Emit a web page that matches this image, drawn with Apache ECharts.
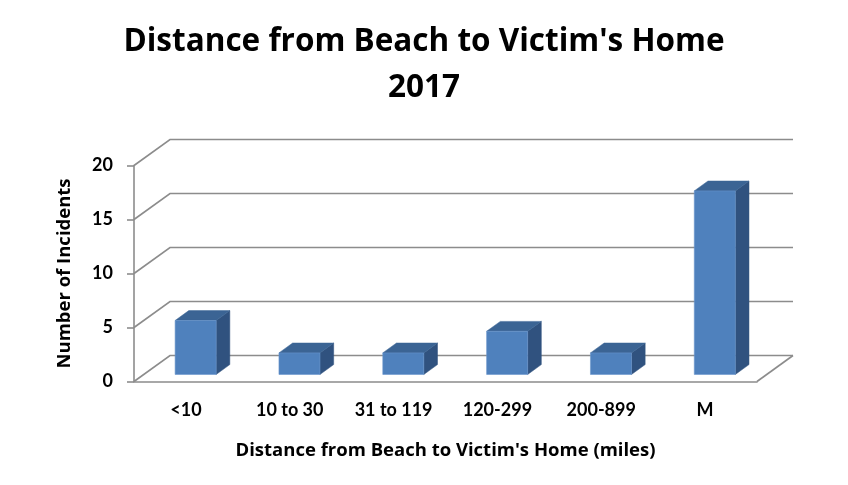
<!DOCTYPE html>
<html>
<head>
<meta charset="utf-8">
<script src="https://cdn.jsdelivr.net/npm/echarts@6/dist/echarts.min.js"></script>
<style>html,body{margin:0;padding:0;background:#fff}#c{width:848px;height:485px}</style>
</head>
<body>
<div id="c"></div>
<script>
var titleText = "Distance from Beach to Victim's Home\n2017";
var categories = ['<10', '10 to 30', '31 to 119', '120-299', '200-899', 'M'];
var incidents = [5, 2, 2, 4, 2, 17];
var yTicks = [0, 5, 10, 15, 20];
var xAxisName = "Distance from Beach to Victim's Home (miles)";
var yAxisName = 'Number of Incidents';

var FONT = 'Lato, Carlito, "Open Sans", sans-serif';
var FONT2 = '"Open Sans", Lato, sans-serif';
var DX = 36, DY = -26;          // full depth offset of the back wall
var F0 = 0.27, F1 = 0.65;        // bar depth start / end fraction
var BAR_W = 0.395;               // bar width as fraction of band
var GRID_COLOR = '#8c8c8c';

var chart = echarts.init(document.getElementById('c'), null, {renderer: 'canvas'});

function gridRender(params, api) {
  var cs = params.coordSys;
  var v = api.value(0);
  var y = api.coord([0, v])[1];
  var x0 = cs.x, x1 = cs.x + cs.width;
  var children = [{
    type: 'polyline',
    shape: {points: [[x0, y], [x0 + DX, y + DY], [x1 + DX, y + DY]]},
    style: {stroke: GRID_COLOR, lineWidth: 1.6, fill: null}
  }];
  if (v === 0) {
    children.push({
      type: 'line',
      shape: {x1: x1, y1: y, x2: x1 + DX, y2: y + DY},
      style: {stroke: GRID_COLOR, lineWidth: 1.6}
    });
  }
  return {type: 'group', children: children};
}

function barRender(params, api) {
  var idx = api.value(0), val = api.value(1);
  var base = api.coord([idx, 0]);
  var top = api.coord([idx, val]);
  var band = api.size([1, 0])[0];
  var w = band * BAR_W;
  var fx = base[0] - w / 2 + DX * F0;
  var fyB = base[1] + DY * F0;
  var fyT = top[1] + DY * F0;
  var ddx = DX * (F1 - F0), ddy = DY * (F1 - F0);
  return {
    type: 'group',
    children: [
      {type: 'polygon', shape: {points: [[fx + w, fyB], [fx + w + ddx, fyB + ddy], [fx + w + ddx, fyT + ddy], [fx + w, fyT]]},
       style: {fill: '#30527f', stroke: '#30527f', lineWidth: 0.5}},
      {type: 'polygon', shape: {points: [[fx, fyT], [fx + ddx, fyT + ddy], [fx + w + ddx, fyT + ddy], [fx + w, fyT]]},
       style: {fill: '#3b6494', stroke: '#3b6494', lineWidth: 0.5}},
      {type: 'rect', shape: {x: fx, y: fyT, width: w, height: fyB - fyT},
       style: {fill: '#4f81bd', stroke: '#6a96cc', lineWidth: 0.6}}
    ]
  };
}

chart.setOption({
  animation: false,
  backgroundColor: '#ffffff',
  title: {
    text: titleText,
    left: 'center',
    top: 14,
    textStyle: {fontFamily: FONT2, fontWeight: 'bold', fontSize: 31.5, lineHeight: 46, color: '#000'}
  },
  grid: {left: 134, right: 91, top: 165.5, bottom: 103.5, containLabel: false},
  xAxis: {
    type: 'category',
    data: categories,
    name: xAxisName,
    nameLocation: 'middle',
    nameGap: 60,
    nameTextStyle: {fontFamily: FONT2, fontWeight: 'bold', fontSize: 18.5, color: '#000'},
    axisLine: {show: true, lineStyle: {color: GRID_COLOR, width: 1.6}},
    axisTick: {show: false},
    axisLabel: {fontFamily: FONT, fontWeight: 'bold', fontSize: 18, color: '#000', margin: 20, interval: 0},
    splitLine: {show: false}
  },
  yAxis: {
    type: 'value',
    min: 0, max: 20, interval: 5,
    name: yAxisName,
    nameLocation: 'middle',
    nameGap: 60,
    nameRotate: 90,
    nameTextStyle: {fontFamily: FONT2, fontWeight: 'bold', fontSize: 18.5, color: '#000'},
    axisLine: {show: true, lineStyle: {color: GRID_COLOR, width: 1.6}},
    axisTick: {show: true, length: 7, lineStyle: {color: GRID_COLOR, width: 1.6}},
    axisLabel: {fontFamily: FONT, fontWeight: 'bold', fontSize: 18, color: '#000', margin: 21},
    splitLine: {show: false}
  },
  series: [
    {
      type: 'custom',
      name: 'grid',
      coordinateSystem: 'cartesian2d',
      renderItem: gridRender,
      data: yTicks.map(function (v) { return [v]; }),
      encode: {y: 0},
      z: 1,
      silent: true
    },
    {
      type: 'custom',
      name: 'Incidents',
      coordinateSystem: 'cartesian2d',
      renderItem: barRender,
      data: incidents.map(function (v, i) { return [i, v]; }),
      encode: {x: 0, y: 1},
      z: 3
    }
  ]
});
</script>
</body>
</html>
